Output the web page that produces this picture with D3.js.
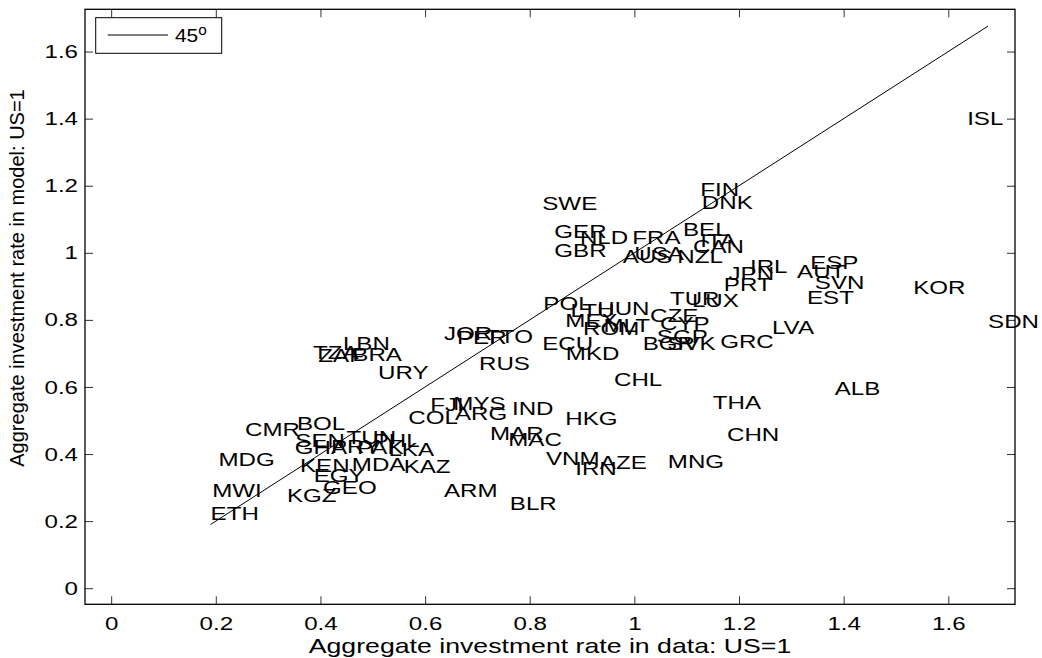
<!DOCTYPE html>
<html><head><meta charset="utf-8">
<script src="https://cdn.jsdelivr.net/npm/d3@7"></script>
<style>
html,body{margin:0;padding:0;background:#fff;}
svg{display:block;font-family:"Liberation Sans",Arial,Helvetica,sans-serif;}
</style></head>
<body>
<svg id="chart" width="1042" height="658"></svg>
<script>
// ---- data ----
const countries = ["ISL","SDN","KOR","ALB","THA","CHN","MNG","CHL","LVA","GRC",
 "BGR","SGP","SVK","CYP","CZE","TUR","LUX","IRL","JPN","PRT","ESP","AUT","SVN","EST",
 "FIN","DNK","BEL","ITA","CAN","SWE","GER","NLD","FRA","GBR","AUS","USA","NZL",
 "POL","HUN","LTU","MEX","ROM","MLT","ECU","MKD","JOR","PER","TTO","RUS",
 "LBN","TZA","ZAF","BRA","URY","FJI","MYS","COL","ARG","IND","HKG","MAR","MAC",
 "VNM","IRN","AZE","BLR","ARM","CMR","BOL","TUN","SEN","GHA","PRY","PAK","PHL","LKA",
 "MDG","KEN","MDA","KAZ","EGY","GEO","MWI","ETH","KGZ"];
const dataX = [1.636,1.676,1.533,1.383,1.150,1.177,1.064,0.961,1.263,1.164,
 1.016,1.043,1.063,1.049,1.030,1.068,1.110,1.221,1.180,1.171,1.336,1.311,1.345,1.330,
 1.126,1.129,1.093,1.126,1.112,0.824,0.847,0.896,0.996,0.847,0.978,1.000,1.082,
 0.826,0.929,0.878,0.868,0.902,0.941,0.824,0.869,0.636,0.661,0.715,0.703,
 0.443,0.386,0.396,0.461,0.510,0.610,0.654,0.568,0.657,0.766,0.868,0.724,0.759,
 0.831,0.887,0.934,0.762,0.636,0.256,0.355,0.450,0.352,0.351,0.420,0.470,0.500,0.530,
 0.205,0.361,0.460,0.559,0.387,0.405,0.193,0.190,0.336];
const dataY = [1.402,0.797,0.899,0.595,0.556,0.460,0.380,0.624,0.777,0.738,
 0.730,0.752,0.730,0.790,0.815,0.865,0.860,0.961,0.940,0.908,0.973,0.944,0.911,0.869,
 1.191,1.152,1.072,1.038,1.020,1.148,1.065,1.048,1.048,1.008,0.991,1.000,0.991,
 0.851,0.836,0.830,0.800,0.775,0.785,0.731,0.702,0.759,0.749,0.752,0.671,
 0.731,0.705,0.695,0.698,0.645,0.549,0.552,0.511,0.522,0.537,0.507,0.463,0.445,
 0.388,0.358,0.377,0.254,0.293,0.474,0.491,0.450,0.440,0.420,0.425,0.420,0.440,0.415,
 0.384,0.368,0.370,0.363,0.337,0.300,0.293,0.225,0.278];
const xTicks = [0,0.2,0.4,0.6,0.8,1,1.2,1.4,1.6];
const yTicks = [0,0.2,0.4,0.6,0.8,1,1.2,1.4,1.6];
const xTitle = "Aggregate investment rate in data: US=1";
const yTitle = "Aggregate investment rate in model: US=1";
const legendText = "45";

// ---- layout ----
const L = 85, R = 1015, T = 9.3, B = 604.3;
const SX = 1.27; // horizontal text stretch
const svg = d3.select("#chart");
const x = d3.scaleLinear().domain([-0.05, 1.7275]).range([L, R]);
const y = d3.scaleLinear().domain([-0.048, 1.726]).range([B, T]);

const fmt = d => d3.format("")(d);

// axes (ticks inside)
const tickLen = 8;
const gB = svg.append("g").attr("transform", `translate(0,${B})`)
  .call(d3.axisBottom(x).tickValues(xTicks).tickSizeInner(-tickLen).tickSizeOuter(0).tickPadding(12).tickFormat(fmt));
const gL = svg.append("g").attr("transform", `translate(${L},0)`)
  .call(d3.axisLeft(y).tickValues(yTicks).tickSizeInner(-tickLen).tickSizeOuter(0).tickPadding(7).tickFormat(fmt));
const gT = svg.append("g").attr("transform", `translate(0,${T})`)
  .call(d3.axisTop(x).tickValues(xTicks).tickSizeInner(-tickLen).tickSizeOuter(0).tickFormat(""));
const gR = svg.append("g").attr("transform", `translate(${R},0)`)
  .call(d3.axisRight(y).tickValues(yTicks).tickSizeInner(-tickLen).tickSizeOuter(0).tickFormat(""));
[gB,gL,gT,gR].forEach(g => {
  g.select(".domain").remove();
  g.selectAll("line").attr("stroke", "#333").attr("stroke-width", 1);
  g.selectAll("text").attr("fill", "#000").attr("font-size", 19)
    .attr("font-family", "'Liberation Sans',Arial,sans-serif");
});
gB.selectAll("text").attr("transform", `scale(${SX},1)`);
gL.selectAll("text").each(function(){
  const t = d3.select(this);
  t.attr("x", +t.attr("x") / SX).attr("transform", `scale(${SX},1)`);
});

// frame
svg.append("rect").attr("x", L).attr("y", T).attr("width", R - L).attr("height", B - T)
  .attr("fill", "none").attr("stroke", "#000").attr("stroke-width", 1.3);

// 45 degree line
const ext = d3.extent(dataX);
svg.append("line")
  .attr("x1", x(ext[0])).attr("y1", y(ext[0]))
  .attr("x2", x(ext[1])).attr("y2", y(ext[1]))
  .attr("stroke", "#000").attr("stroke-width", 1);

// country labels (left aligned, vertically middle)
const pts = countries.map((c, i) => ({c, x: dataX[i], y: dataY[i]}));
svg.append("g").selectAll("text").data(pts).join("text")
  .attr("transform", d => `translate(${x(d.x)},${y(d.y)}) scale(${SX},1)`)
  .attr("dy", "0.36em")
  .attr("font-size", 19)
  .attr("fill", "#000")
  .text(d => d.c);

// axis titles
svg.append("text").attr("transform", `translate(${(L + R) / 2},653) scale(${SX},1)`)
  .attr("text-anchor", "middle").attr("font-size", 21).text(xTitle);
svg.append("text").attr("transform", `translate(24,278) rotate(-90)`)
  .attr("text-anchor", "middle").attr("font-size", 20).text(yTitle);

// legend
svg.append("rect").attr("x", 95.7).attr("y", 17.7).attr("width", 126).attr("height", 35.6)
  .attr("fill", "#fff").attr("stroke", "#000").attr("stroke-width", 1);
svg.append("line").attr("x1", 107.7).attr("x2", 168).attr("y1", 35).attr("y2", 35)
  .attr("stroke", "#000").attr("stroke-width", 1);
const lt = svg.append("text").attr("transform", "translate(175,42) scale(1.1,1)")
  .attr("font-size", 19).text(legendText);
lt.append("tspan").attr("font-size", 14).attr("dy", -7).text("o");
</script>
</body></html>
